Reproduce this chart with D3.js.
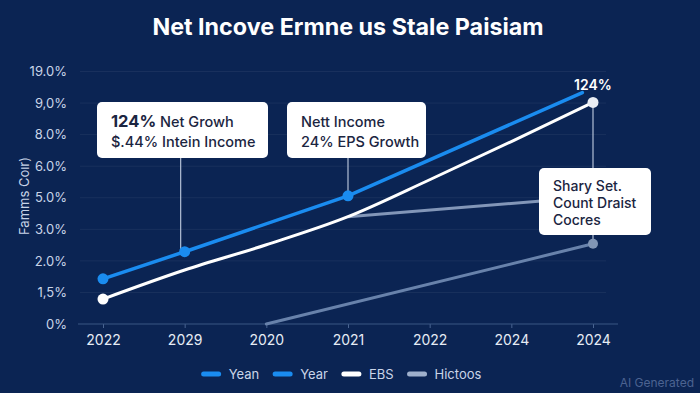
<!doctype html>
<html>
  <head>
    <meta charset="utf-8">
    <title>Net Income chart</title>
    <script src="https://cdnjs.cloudflare.com/ajax/libs/d3/7.8.5/d3.min.js"></script>
    <style>
      html, body { margin: 0; padding: 0; background: #0b2453; }
      svg { display: block; font-family: Inter, "Open Sans", sans-serif; }
    </style>
  </head>
  <body>
    <div id="chart"></div>
    <script>
      // --- data ---
      const xLabels = ["2022", "2029", "2020", "2021", "2022", "2024", "2024"];
      const yLabels = ["0%", "1,5%", "2.0%", "3.0%", "5.0%", "6.0%", "8.0%", "9,0%", "19.0%"];

      // x = position on the year axis, v = position on the band axis
      const blueX  = [0, 1, 3, 5.87];
      const blueV  = [1.43, 2.29, 4.06, 7.33];
      const whiteX = [0, 1, 2, 3, 4, 5, 6];
      const whiteV = [0.79, 1.71, 2.51, 3.40, 4.57, 5.78, 7.02];
      const lightX = [3, 6];
      const lightV = [3.40, 4.03];
      const steelX = [2, 6];
      const steelV = [0, 2.54];

      const legendNames = ["Yean", "Year", "EBS", "Hictoos"];
      const legendColors = ["#1a8cf0", "#1a8cf0", "#ffffff", "#9fb0cc"];

      const W = 700, H = 393;
      const svg = d3.select("#chart").append("svg")
        .attr("width", W).attr("height", H);

      svg.append("rect").attr("width", W).attr("height", H).attr("fill", "#0b2453");

      const x = d3.scaleLinear().domain([0, 6]).range([103, 593]);
      const y = d3.scaleLinear().domain([0, 8]).range([324, 71.5]);

      // title
      svg.append("text")
        .attr("x", 348).attr("y", 35)
        .attr("text-anchor", "middle")
        .attr("fill", "#ffffff")
        .attr("font-size", 23.3).attr("font-weight", 700)
        .text("Net Incove Ermne us Stale Paisiam");

      // gridlines
      svg.append("g").selectAll("line")
        .data(d3.range(1, yLabels.length))
        .join("line")
        .attr("x1", 80).attr("x2", 606)
        .attr("y1", d => y(d)).attr("y2", d => y(d))
        .attr("stroke", "#ffffff").attr("stroke-opacity", 0.06);

      // y axis labels
      const yAxis = d3.axisLeft(y)
        .tickValues(d3.range(yLabels.length))
        .tickFormat(i => yLabels[i])
        .tickSize(0).tickPadding(0);
      const gy = svg.append("g").attr("transform", "translate(67,0)").call(yAxis);
      gy.select(".domain").remove();
      gy.selectAll("text")
        .attr("fill", "#c9d4e8").attr("font-size", 13)
        .attr("font-family", "Inter, sans-serif");

      // x axis
      const xAxis = d3.axisBottom(x)
        .tickValues(d3.range(xLabels.length))
        .tickFormat(i => xLabels[i])
        .tickSizeInner(4).tickSizeOuter(0).tickPadding(7);
      const gx = svg.append("g").attr("transform", "translate(0,324)").call(xAxis);
      gx.select(".domain").remove();
      gx.append("line").attr("x1", 78).attr("x2", 618)
        .attr("stroke", "#3b5684").attr("stroke-width", 1.2);
      gx.selectAll(".tick line").attr("stroke", "#4a6592");
      gx.selectAll("text")
        .attr("fill", "#e6ecf5").attr("font-size", 14)
        .attr("font-family", "Inter, sans-serif");

      // y axis title
      svg.append("text")
        .attr("transform", "translate(29,196) rotate(-90)")
        .attr("text-anchor", "middle")
        .attr("fill", "#c9d4e8").attr("font-size", 13)
        .text("Famms Coır)");

      const pts = (xs, vs) => xs.map((d, i) => [x(d), y(vs[i])]);
      const straight = d3.line();
      const smooth = d3.line().curve(d3.curveMonotoneX);

      // lines
      svg.append("path").attr("d", straight(pts(steelX, steelV)))
        .attr("fill", "none").attr("stroke", "#6882ab").attr("stroke-width", 3).attr("stroke-linecap", "round");
      svg.append("path").attr("d", straight(pts(lightX, lightV)))
        .attr("fill", "none").attr("stroke", "#8296b8").attr("stroke-width", 3);
      svg.append("path").attr("d", smooth(pts(whiteX, whiteV)))
        .attr("fill", "none").attr("stroke", "#ffffff").attr("stroke-width", 3);
      svg.append("path").attr("d", straight(pts(blueX, blueV)))
        .attr("fill", "none").attr("stroke", "#1a8cf0").attr("stroke-width", 3.5).attr("stroke-linecap", "round");

      // connectors
      const conn = svg.append("g").attr("stroke", "#b3c0d6").attr("stroke-width", 1.2);
      conn.append("line").attr("x1", x(1) - 4).attr("x2", x(1) - 4).attr("y1", 158).attr("y2", y(blueV[1]));
      conn.append("line").attr("x1", x(3)).attr("x2", x(3)).attr("y1", 158).attr("y2", y(blueV[2]));
      conn.append("line").attr("x1", x(6)).attr("x2", x(6)).attr("y1", y(whiteV[6])).attr("y2", y(steelV[1]));

      // annotation boxes
      const boxes = [
        { x: 97, y: 102, w: 171, h: 56, fs: 14.5, lines: [["124%", " Net Growh"], ["$.44% Intein Income"]] },
        { x: 287, y: 102, w: 139, h: 56, fs: 14.5, lines: [["Nett Income"], ["24% EPS Growth"]] },
        { x: 539, y: 168, w: 112, h: 67, fs: 14, lines: [["Shary Set."], ["Count Draist"], ["Cocres"]] }
      ];
      boxes.forEach(b => {
        const g = svg.append("g");
        g.append("rect").attr("x", b.x).attr("y", b.y).attr("width", b.w).attr("height", b.h)
          .attr("rx", 5).attr("fill", "#ffffff");
        const lh = b.lines.length === 3 ? 17.2 : 19.5;
        const top = b.lines.length === 3 ? b.y + 23 : b.y + 25;
        b.lines.forEach((ln, i) => {
          const t = g.append("text")
            .attr("x", b.x + 14).attr("y", top + i * lh)
            .attr("fill", "#1b2541").attr("font-size", b.fs).attr("font-weight", 500);
          ln.forEach((part, j) => {
            t.append("tspan").text(part)
              .attr("font-weight", (j === 0 && ln.length > 1) ? 700 : 500)
              .attr("font-size", (j === 0 && ln.length > 1) ? 16.5 : b.fs);
          });
        });
      });

      // markers
      svg.append("g").selectAll("circle")
        .data(pts(blueX.slice(0, 3), blueV.slice(0, 3)))
        .join("circle")
        .attr("cx", d => d[0]).attr("cy", d => d[1]).attr("r", 5.5)
        .attr("fill", "#1a8cf0");
      svg.append("g").selectAll("circle")
        .data([[x(whiteX[0]), y(whiteV[0])], [x(whiteX[6]), y(whiteV[6])]])
        .join("circle")
        .attr("cx", d => d[0]).attr("cy", d => d[1]).attr("r", 5.5)
        .attr("fill", (d, i) => i ? "#e9edf4" : "#ffffff");
      svg.append("circle")
        .attr("cx", x(steelX[1])).attr("cy", y(steelV[1])).attr("r", 5)
        .attr("fill", "#8196b5");

      // end label
      svg.append("text")
        .attr("x", x(6)).attr("y", 90)
        .attr("text-anchor", "middle")
        .attr("fill", "#ffffff").attr("font-size", 14).attr("font-weight", 600)
        .text("124%");

      // legend
      const leg = svg.append("g");
      let cx = 0;
      legendNames.forEach((name, i) => {
        leg.append("line")
          .attr("x1", cx + 2).attr("x2", cx + 17).attr("y1", 0).attr("y2", 0)
          .attr("stroke", legendColors[i]).attr("stroke-width", 5).attr("stroke-linecap", "round");
        const t = leg.append("text")
          .attr("x", cx + 27).attr("y", 5)
          .attr("fill", "#c9d4e8").attr("font-size", 13)
          .text(name);
        cx += 27 + t.node().getComputedTextLength() + 14;
      });
      const legW = cx - 14;
      leg.attr("transform", `translate(${(203 + 480) / 2 - legW / 2},374)`);

      // watermark
      svg.append("text")
        .attr("x", 694).attr("y", 387)
        .attr("text-anchor", "end")
        .attr("fill", "#4c6391").attr("font-size", 12)
        .text("AI Generated");
    </script>
  </body>
</html>
